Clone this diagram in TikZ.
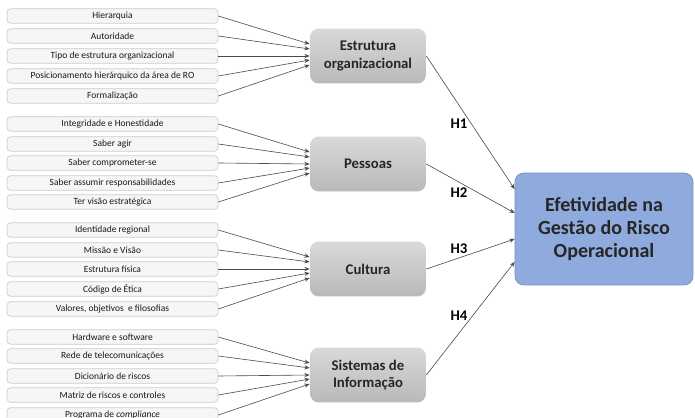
\documentclass[tikz,border=0pt]{standalone}
\usepackage{fontspec}
\setmainfont{Carlito}
\usetikzlibrary{arrows.meta}
\definecolor{azzurro}{HTML}{8FAADC}
\tikzset{
  voce/.style={draw=gray!40, fill=gray!7, rounded corners=2pt, minimum width=4.22cm, minimum height=0.29cm, inner sep=0pt, font=\fontsize{5.4}{6}\selectfont, text=black!90},
  costrutto/.style={rounded corners=5pt, top color=gray!30, bottom color=gray!55, minimum width=2.32cm, minimum height=1.1cm, align=center, inner sep=1pt, font=\fontsize{8.4}{9.8}\selectfont\bfseries, text=black!85},
  obiettivo/.style={rounded corners=5pt, fill=azzurro, draw=azzurro!85!black, line width=0.4pt, minimum width=3.56cm, minimum height=2.24cm, align=center, font=\fontsize{11.4}{13.2}\selectfont\bfseries, text=black!85},
  freccia/.style={-{Stealth[length=3pt,width=2.4pt]}, draw=black!70, line width=0.35pt},
  ipotesi/.style={font=\fontsize{8.4}{9}\selectfont\bfseries}
}
\begin{document}
\begin{tikzpicture}[x=0.02cm, y=-0.02cm]
    %cornice
    \useasboundingbox (0,0) rectangle (695,418);
    %voci estrutura
    \node[voce] (e1) at (112.5,16) {Hierarquia};
    \node[voce] (e2) at (112.5,36) {Autoridade};
    \node[voce] (e3) at (112.5,56) {Tipo de estrutura organizacional};
    \node[voce] (e4) at (112.5,76) {Posicionamento hierárquico da área de RO};
    \node[voce] (e5) at (112.5,96) {Formalização};
    %voci pessoas
    \node[voce] (p1) at (112.5,124) {Integridade e Honestidade};
    \node[voce] (p2) at (112.5,144) {Saber agir};
    \node[voce] (p3) at (112.5,163) {Saber comprometer-se};
    \node[voce] (p4) at (112.5,183) {Saber assumir responsabilidades};
    \node[voce] (p5) at (112.5,202) {Ter visão estratégica};
    %voci cultura
    \node[voce] (c1) at (112.5,230) {Identidade regional};
    \node[voce] (c2) at (112.5,250) {Missão e Visão};
    \node[voce] (c3) at (112.5,269) {Estrutura física};
    \node[voce] (c4) at (112.5,289) {Código de Ética};
    \node[voce] (c5) at (112.5,309) {Valores, objetivos \ e filosofias};
    %voci sistemas
    \node[voce] (s1) at (112.5,337) {Hardware e software};
    \node[voce] (s2) at (112.5,356) {Rede de telecomunicações};
    \node[voce] (s3) at (112.5,376) {Dicionário de riscos};
    \node[voce] (s4) at (112.5,395) {Matriz de riscos e controles};
    \node[voce] (s5) at (112.5,415) {Programa de \textit{compliance}};
    %costrutti
    \node[costrutto] (est) at (368,56) {Estrutura\\organizacional};
    \node[costrutto] (pes) at (368,164) {Pessoas};
    \node[costrutto] (cul) at (368,269) {Cultura};
    \node[costrutto] (sis) at (368,375) {Sistemas de\\Informação};
    %obiettivo
    \node[obiettivo] (obj) at (604,229) {Efetividade na\\Gestão do Risco\\Operacional};
    %frecce voci
    \foreach \g/\m in {e/est, p/pes, c/cul, s/sis}
      \foreach \i/\d in {1/6.8pt, 2/4pt, 3/0pt, 4/-2.3pt, 5/-5.1pt}
        \draw[freccia] (\g\i.east) -- ([yshift=\d]\m.west);
    %frecce ipotesi
    \draw[freccia] (est.east) -- ([yshift=22.7pt]obj.west);
    \draw[freccia] (pes.east) -- ([yshift=9.1pt]obj.west);
    \draw[freccia] (cul.east) -- ([yshift=-5.7pt]obj.west);
    \draw[freccia] (sis.east) -- ([yshift=-18.7pt]obj.west);
    %label
    \node[ipotesi] (h1) at (459,124) {H1};
    \node[ipotesi] (h2) at (459,193) {H2};
    \node[ipotesi] (h3) at (459,249) {H3};
    \node[ipotesi] (h4) at (459,316) {H4};
\end{tikzpicture}
\end{document}
